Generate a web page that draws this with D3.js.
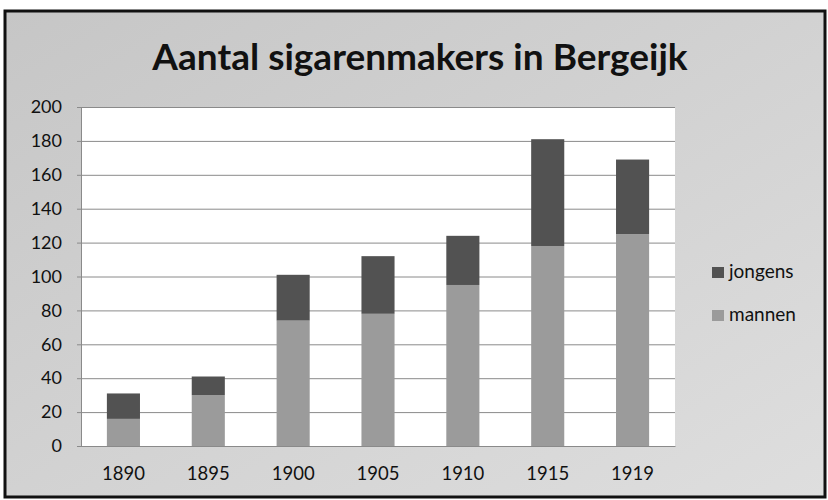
<!DOCTYPE html>
<html>
<head>
<meta charset="utf-8">
<script src="https://cdn.jsdelivr.net/npm/d3@7"></script>
<style>
  body { margin: 0; background: #fff; }
  svg { display: block; }
  text { font-family: Lato, "Open Sans", sans-serif; fill: #111; }
</style>
</head>
<body>
<div id="chart"></div>
<script>
// data
const years = ['1890', '1895', '1900', '1905', '1910', '1915', '1919'];
const mannen = [16, 30, 74, 78, 95, 118, 125];
const jongens = [15, 11, 27, 34, 29, 63, 44];
const yTicks = [0, 20, 40, 60, 80, 100, 120, 140, 160, 180, 200];
const seriesNames = ['mannen', 'jongens'];
const colors = { mannen: '#9b9b9b', jongens: '#525252' };

const width = 828;
const height = 500;

const svg = d3.select('#chart')
  .append('svg')
  .attr('width', width)
  .attr('height', height);

const defs = svg.append('defs');
const grad = defs.append('linearGradient')
  .attr('id', 'bg')
  .attr('x1', '0%').attr('y1', '0%')
  .attr('x2', '100%').attr('y2', '100%');
grad.append('stop').attr('offset', '0%').attr('stop-color', '#c6c6c6');
grad.append('stop').attr('offset', '100%').attr('stop-color', '#dedede');

// outer frame
svg.append('rect')
  .attr('x', 5).attr('y', 11)
  .attr('width', 820).attr('height', 486)
  .attr('fill', 'url(#bg)')
  .attr('stroke', '#111')
  .attr('stroke-width', 3);

const usable = { left: 81, right: 675, top: 107, bottom: 446 };

// plot area
svg.append('rect')
  .attr('x', usable.left).attr('y', usable.top)
  .attr('width', usable.right - usable.left)
  .attr('height', usable.bottom - usable.top)
  .attr('fill', '#fff');

const xScale = d3.scaleBand()
  .domain(years)
  .range([usable.left, usable.right])
  .paddingInner(0.61)
  .paddingOuter(0.305);

const yScale = d3.scaleLinear()
  .domain([0, 200])
  .range([usable.bottom, usable.top]);

// gridlines
svg.append('g')
  .attr('class', 'gridlines')
  .attr('transform', `translate(${usable.left}, 0)`)
  .call(d3.axisLeft(yScale).tickValues(yTicks).tickFormat('').tickSize(-(usable.right - usable.left)))
  .call(g => g.select('.domain').remove())
  .call(g => g.selectAll('line').attr('stroke', '#8a8a8a').attr('stroke-width', 1));

// stacked bars
const table = years.map((y, i) => ({ year: y, mannen: mannen[i], jongens: jongens[i] }));
const stacked = d3.stack().keys(seriesNames)(table);

svg.append('g')
  .selectAll('g')
  .data(stacked)
  .join('g')
  .attr('fill', d => colors[d.key])
  .selectAll('rect')
  .data(d => d)
  .join('rect')
  .attr('x', d => xScale(d.data.year))
  .attr('y', d => yScale(d[1]))
  .attr('width', xScale.bandwidth())
  .attr('height', d => yScale(d[0]) - yScale(d[1]));

// y axis
const yAxis = svg.append('g')
  .attr('transform', `translate(${usable.left}, 0)`)
  .call(d3.axisLeft(yScale).tickValues(yTicks).tickSize(4).tickPadding(15));
yAxis.select('.domain').attr('stroke', '#8a8a8a');
yAxis.selectAll('line').attr('stroke', '#8a8a8a');
yAxis.selectAll('text').attr('font-size', 18).style('font-family', 'Lato, sans-serif').attr('fill', '#111');

// x axis
const xAxis = svg.append('g')
  .attr('transform', `translate(0, ${usable.bottom})`)
  .call(d3.axisBottom(xScale).tickSize(0).tickPadding(21));
xAxis.select('.domain').attr('stroke', '#8a8a8a');
xAxis.selectAll('text').attr('font-size', 18.5).style('font-family', 'Lato, sans-serif').attr('fill', '#111');

// title
svg.append('text')
  .attr('x', 420)
  .attr('y', 70)
  .attr('text-anchor', 'middle')
  .attr('font-size', 37)
  .attr('font-weight', 'bold')
  .text('Aantal sigarenmakers in Bergeijk');

// legend
const legendItems = ['jongens', 'mannen'];
const legend = svg.append('g')
  .selectAll('g')
  .data(legendItems)
  .join('g')
  .attr('transform', (d, i) => `translate(712, ${267 + i * 43})`);
legend.append('rect')
  .attr('width', 12).attr('height', 11)
  .attr('fill', d => colors[d]);
legend.append('text')
  .attr('x', 17).attr('y', 11)
  .attr('font-size', 19)
  .text(d => d);
</script>
</body>
</html>
